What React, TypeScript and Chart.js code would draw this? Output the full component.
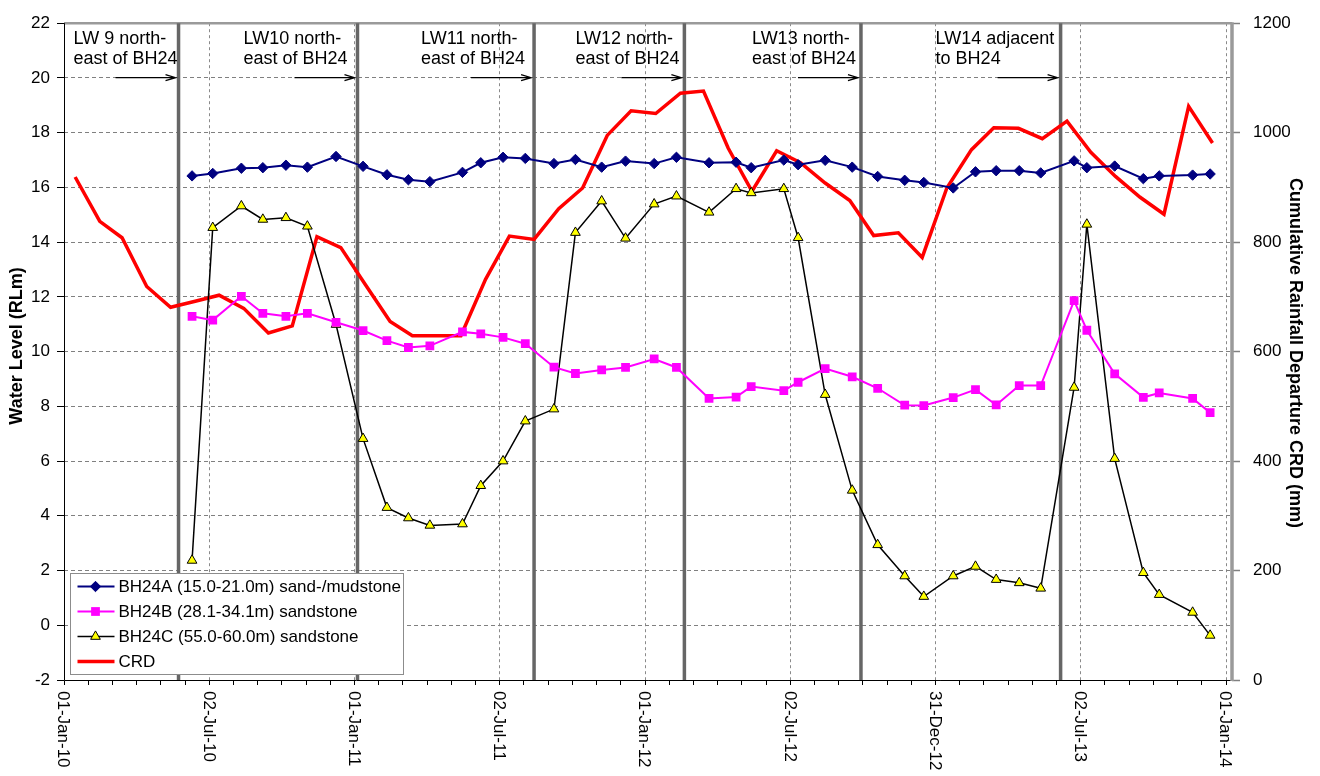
import React, { useEffect, useRef } from 'react';
import { Chart, registerables } from 'chart.js';
import { drawPoint } from 'chart.js/helpers';

Chart.register(...registerables);

// ---------------- DATA ----------------
const sampleDates = [
  '2010-06-11', '2010-07-07', '2010-08-12', '2010-09-08', '2010-10-07', '2010-11-03', '2010-12-09',
  '2011-01-12', '2011-02-11', '2011-03-10', '2011-04-06', '2011-05-17', '2011-06-09', '2011-07-07',
  '2011-08-04', '2011-09-09', '2011-10-06', '2011-11-08', '2011-12-08',
  '2012-01-13', '2012-02-10', '2012-03-22', '2012-04-25', '2012-05-14', '2012-06-24', '2012-07-12',
  '2012-08-15', '2012-09-18', '2012-10-20', '2012-11-23', '2012-12-17',
  '2013-01-23', '2013-02-20', '2013-03-18', '2013-04-16', '2013-05-13', '2013-06-24', '2013-07-10',
  '2013-08-14', '2013-09-19', '2013-10-09', '2013-11-20', '2013-12-12',
];

const bh24a = [
  16.42, 16.51, 16.7, 16.72, 16.81, 16.74, 17.13, 16.77, 16.46, 16.28, 16.21, 16.55,
  16.9, 17.1, 17.06, 16.87, 17.02, 16.74, 16.96, 16.87, 17.1, 16.9, 16.92, 16.72, 17.0, 16.83, 16.99, 16.74,
  16.4, 16.26, 16.18, 15.98, 16.57, 16.61, 16.61, 16.53, 16.97, 16.72, 16.78, 16.32, 16.42, 16.45, 16.49,
];

const bh24b = [
  11.29, 11.15, 12.02, 11.4, 11.29, 11.4, 11.07, 10.77, 10.4, 10.15, 10.21, 10.72,
  10.65, 10.52, 10.29, 9.43, 9.2, 9.33, 9.42, 9.73, 9.42, 8.29, 8.34, 8.72, 8.57, 8.88, 9.38, 9.08,
  8.66, 8.04, 8.03, 8.32, 8.61, 8.05, 8.76, 8.76, 11.86, 10.78, 9.19, 8.33, 8.49, 8.29, 7.77,
];

const bh24c = [
  2.37, 14.53, 15.32, 14.83, 14.89, 14.58, 10.99, 6.82, 4.3, 3.92, 3.65, 3.7,
  5.1, 6.0, 7.46, 7.9, 14.35, 15.5, 14.14, 15.39, 15.68, 15.09, 15.95, 15.8, 15.95, 14.16, 8.43, 4.93,
  2.94, 1.8, 1.05, 1.8, 2.15, 1.67, 1.55, 1.35, 8.69, 14.65, 6.09, 1.92, 1.12, 0.47, -0.37,
];

const crdDates = [
  '2010-01-15', '2010-02-15', '2010-03-15', '2010-04-15', '2010-05-15', '2010-06-15',
  '2010-07-15', '2010-08-15', '2010-09-15', '2010-10-15', '2010-11-15', '2010-12-15',
  '2011-01-15', '2011-02-15', '2011-03-15', '2011-04-15', '2011-05-15', '2011-06-15',
  '2011-07-15', '2011-08-15', '2011-09-15', '2011-10-15', '2011-11-15', '2011-12-15',
  '2012-01-15', '2012-02-15', '2012-03-15', '2012-04-15', '2012-05-15', '2012-06-15',
  '2012-07-15', '2012-08-15', '2012-09-15', '2012-10-15', '2012-11-15', '2012-12-15',
  '2013-01-15', '2013-02-15', '2013-03-15', '2013-04-15', '2013-05-15', '2013-06-15',
  '2013-07-15', '2013-08-15', '2013-09-15', '2013-10-15', '2013-11-15', '2013-12-15',
];

const crdValues = [
  919, 838, 808, 719, 681, 692, 703, 679, 634, 647, 810, 790,
  722, 655, 629, 629, 629, 732, 811, 805, 861, 899, 995, 1040,
  1035, 1072, 1076, 972, 893, 967, 945, 908, 876, 812, 817, 772,
  899, 969, 1009, 1008, 989, 1021, 964, 920, 882, 851, 1048, 981,
];

const longwallDates = ['2010-05-25', '2011-01-05', '2011-08-15', '2012-02-20', '2012-09-29', '2013-06-07'];
const longwallLabels = [
  ['LW 9 north-', 'east of BH24'],
  ['LW10 north-', 'east of BH24'],
  ['LW11 north-', 'east of BH24'],
  ['LW12 north-', 'east of BH24'],
  ['LW13 north-', 'east of BH24'],
  ['LW14 adjacent', 'to BH24'],
];

const xTickLabels = ['01-Jan-10', '02-Jul-10', '01-Jan-11', '02-Jul-11', '01-Jan-12', '02-Jul-12', '31-Dec-12', '02-Jul-13', '01-Jan-14'];
const seriesNames = ['BH24A (15.0-21.0m) sand-/mudstone', 'BH24B (28.1-34.1m) sandstone', 'BH24C (55.0-60.0m) sandstone', 'CRD'];
const leftTitle = 'Water Level (RLm)';
const rightTitle = 'Cumulative Rainfall Departure CRD (mm)';

// ---------------- helpers / layout ----------------
const ORIGIN = Date.UTC(2010, 0, 1);
const toDay = (iso: string) => {
  const [y, m, d] = iso.split('-').map(Number);
  return (Date.UTC(y, m - 1, d) - ORIGIN) / 86400000;
};
const MAJOR = 182.625;
const MINOR = MAJOR / 6;
const X_MAX = 1468.5;
const FONT = '"Liberation Sans", Arial, sans-serif';
const labelOffsets = [105, 114, 113, 109, 109, 125];

const xTickValues: number[] = [];
for (let i = 0; i <= 48; i++) xTickValues.push(i * MINOR);
const isMajor = (v: number) => Math.abs(v / MAJOR - Math.round(v / MAJOR)) < 1e-6;

const decor = {
  id: 'decor',
  beforeDatasetsDraw(chart: any) {
    const { ctx, chartArea: a, scales } = chart;
    const x = scales.x;
    ctx.save();
    // top border
    ctx.strokeStyle = '#9a9a9a';
    ctx.lineWidth = 2.5;
    ctx.beginPath();
    ctx.moveTo(a.left, a.top);
    ctx.lineTo(a.right, a.top);
    ctx.stroke();
    // longwall lines
    ctx.strokeStyle = '#666666';
    ctx.lineWidth = 3.5;
    longwallDates.forEach((d) => {
      const px = x.getPixelForValue(toDay(d));
      ctx.beginPath();
      ctx.moveTo(px, a.top);
      ctx.lineTo(px, a.bottom);
      ctx.stroke();
    });
    // annotations
    ctx.fillStyle = '#000';
    ctx.font = `18px ${FONT}`;
    ctx.textAlign = 'left';
    ctx.textBaseline = 'alphabetic';
    longwallLabels.forEach((lines, i) => {
      const px = x.getPixelForValue(toDay(longwallDates[i]));
      const left = px - labelOffsets[i];
      lines.forEach((t, j) => ctx.fillText(t, left, a.top + 21 + j * 20));
      const ay = a.top + 54.5;
      ctx.strokeStyle = '#000';
      ctx.lineWidth = 1.3;
      ctx.beginPath();
      ctx.moveTo(px - 63, ay);
      ctx.lineTo(px - 3, ay);
      ctx.moveTo(px - 13, ay - 3);
      ctx.lineTo(px - 3, ay);
      ctx.lineTo(px - 13, ay + 3);
      ctx.stroke();
    });
    ctx.restore();
  },
  afterDraw(chart: any) {
    const { ctx, chartArea: a, scales } = chart;
    const x = scales.x;
    ctx.save();
    // axis lines
    ctx.strokeStyle = '#000';
    ctx.lineWidth = 1;
    ctx.beginPath();
    ctx.moveTo(a.left + 0.5, a.top);
    ctx.lineTo(a.left + 0.5, a.bottom + 0.5);
    ctx.lineTo(a.right, a.bottom + 0.5);
    ctx.stroke();
    ctx.strokeStyle = '#9a9a9a';
    ctx.lineWidth = 3.5;
    ctx.beginPath();
    ctx.moveTo(a.right, a.top - 1);
    ctx.lineTo(a.right, a.bottom + 1);
    ctx.stroke();

    // x tick labels (rotated, reading downward)
    ctx.fillStyle = '#000';
    ctx.font = `17px ${FONT}`;
    ctx.textAlign = 'left';
    ctx.textBaseline = 'middle';
    xTickLabels.forEach((lab, k) => {
      const px = x.getPixelForValue(k * MAJOR);
      ctx.save();
      ctx.translate(px, a.bottom + 11);
      ctx.rotate(Math.PI / 2);
      ctx.fillText(lab, 0, 1);
      ctx.restore();
    });

    // axis titles
    ctx.font = `bold 18px ${FONT}`;
    ctx.textAlign = 'center';
    ctx.textBaseline = 'middle';
    ctx.save();
    ctx.translate(17, 346);
    ctx.rotate(-Math.PI / 2);
    ctx.fillText(leftTitle, 0, 0);
    ctx.restore();
    ctx.save();
    ctx.translate(1295, 353);
    ctx.rotate(Math.PI / 2);
    ctx.fillText(rightTitle, 0, 0);
    ctx.restore();

    // legend
    const lx = a.left + 6.5;
    const ly = a.bottom - 106.5;
    ctx.fillStyle = '#fff';
    ctx.fillRect(lx, ly, 333, 101);
    ctx.strokeStyle = '#8c8c8c';
    ctx.lineWidth = 1;
    ctx.strokeRect(lx, ly, 333, 101);
    chart.data.datasets.forEach((ds: any, i: number) => {
      const cy = ly + 13 + i * 25;
      ctx.strokeStyle = ds.borderColor;
      ctx.lineWidth = ds.borderWidth;
      ctx.beginPath();
      ctx.moveTo(lx + 7, cy);
      ctx.lineTo(lx + 44, cy);
      ctx.stroke();
      if (ds.pointRadius > 0) {
        ctx.fillStyle = ds.pointBackgroundColor;
        ctx.strokeStyle = ds.pointBorderColor;
        ctx.lineWidth = ds.pointBorderWidth;
        drawPoint(ctx, { pointStyle: ds.pointStyle, radius: ds.pointRadius, rotation: 0, borderWidth: ds.pointBorderWidth }, lx + 25, cy);
      }
      ctx.fillStyle = '#000';
      ctx.font = `17px ${FONT}`;
      ctx.textAlign = 'left';
      ctx.textBaseline = 'middle';
      ctx.fillText(seriesNames[i], lx + 48, cy + 1);
    });
    ctx.restore();
  },
};

export default function App() {
  const ref = useRef<HTMLCanvasElement>(null);
  useEffect(() => {
    const xs = sampleDates.map(toDay);
    const chart = new Chart(ref.current as HTMLCanvasElement, {
      type: 'line',
      data: {
        datasets: [
          {
            label: seriesNames[0],
            data: xs.map((x, i) => ({ x, y: bh24a[i] })),
            yAxisID: 'y',
            borderColor: '#000080',
            borderWidth: 2,
            pointStyle: 'rectRot',
            pointRadius: 5.2,
            pointBackgroundColor: '#000080',
            pointBorderColor: '#000080',
            pointBorderWidth: 1,
            order: 1,
          },
          {
            label: seriesNames[1],
            data: xs.map((x, i) => ({ x, y: bh24b[i] })),
            yAxisID: 'y',
            borderColor: '#FF00FF',
            borderWidth: 2,
            pointStyle: 'rect',
            pointRadius: 6.2,
            pointBackgroundColor: '#FF00FF',
            pointBorderColor: '#FF00FF',
            pointBorderWidth: 0,
            order: 2,
          },
          {
            label: seriesNames[2],
            data: xs.map((x, i) => ({ x, y: bh24c[i] })),
            yAxisID: 'y',
            borderColor: '#000000',
            borderWidth: 1.5,
            pointStyle: 'triangle',
            pointRadius: 5.6,
            pointBackgroundColor: '#FFFF00',
            pointBorderColor: '#000000',
            pointBorderWidth: 1,
            order: 3,
          },
          {
            label: seriesNames[3],
            data: crdDates.map((d, i) => ({ x: toDay(d), y: crdValues[i] })),
            yAxisID: 'y1',
            borderColor: '#FF0000',
            borderWidth: 3.5,
            pointRadius: 0,
            order: 4,
          },
        ] as any,
      },
      options: {
        responsive: false,
        maintainAspectRatio: false,
        devicePixelRatio: 1,
        animation: false,
        events: [],
        layout: { padding: { top: 15, left: 0, right: 0, bottom: 0 } },
        elements: { line: { tension: 0 } },
        plugins: { legend: { display: false }, tooltip: { enabled: false }, title: { display: false } },
        scales: {
          x: {
            type: 'linear',
            min: 0,
            max: X_MAX,
            afterBuildTicks: (s: any) => {
              s.ticks = xTickValues.map((v) => ({ value: v }));
            },
            ticks: { display: false, autoSkip: false },
            grid: {
              color: (c: any) => (c.tick && isMajor(c.tick.value) ? '#8a8a8a' : 'rgba(0,0,0,0)'),
              tickColor: '#000',
              tickLength: 5,
              lineWidth: 1,
            },
            border: { display: false, dash: [3, 3] },
            afterFit: (s: any) => {
              s.height = 96;
            },
          },
          y: {
            position: 'left',
            min: -2,
            max: 22,
            ticks: { stepSize: 2, color: '#000', font: { family: FONT, size: 17 }, padding: 7, callback: (v: any) => String(v) },
            grid: { color: '#808080', tickColor: '#000', tickLength: 7, lineWidth: 1 },
            border: { display: false, dash: [4, 3] },
            afterFit: (s: any) => {
              s.width = 64;
            },
          },
          y1: {
            position: 'right',
            min: 0,
            max: 1200,
            ticks: { stepSize: 200, color: '#000', font: { family: FONT, size: 17 }, padding: 13, callback: (v: any) => String(v) },
            grid: { drawOnChartArea: false, tickColor: '#808080', tickLength: 8, tickWidth: 1.5 },
            border: { display: false },
            afterFit: (s: any) => {
              s.width = 88;
            },
          },
        },
      } as any,
      plugins: [decor],
    });
    return () => chart.destroy();
  }, []);
  return (
    <div style={{ position: 'fixed', left: 0, top: 0, width: 1320, height: 776, background: '#fff' }}>
      <canvas ref={ref} width={1320} height={776} style={{ display: 'block', width: 1320, height: 776 }} />
    </div>
  );
}
